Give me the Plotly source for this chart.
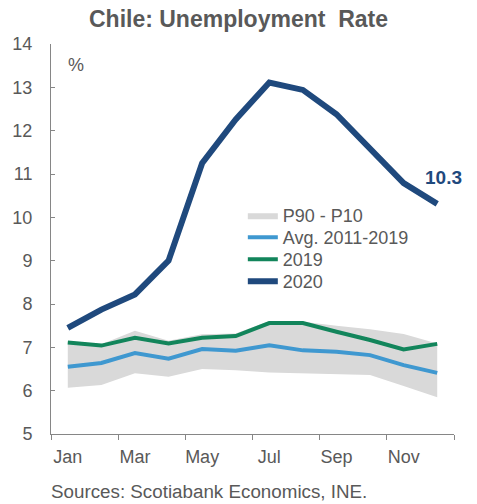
import plotly.graph_objects as go

months = ["Jan", "Feb", "Mar", "Apr", "May", "Jun", "Jul", "Aug", "Sep", "Oct", "Nov", "Dec"]
y2020 = [7.45, 7.87, 8.22, 9.0, 11.25, 12.26, 13.11, 12.94, 12.38, 11.59, 10.79, 10.31]
y2019 = [7.11, 7.04, 7.22, 7.09, 7.22, 7.26, 7.56, 7.56, 7.36, 7.17, 6.95, 7.08]
avg_11_19 = [6.55, 6.64, 6.87, 6.74, 6.96, 6.92, 7.05, 6.93, 6.90, 6.82, 6.59, 6.41]
p90 = [7.13, 7.07, 7.38, 7.15, 7.30, 7.32, 7.61, 7.59, 7.50, 7.42, 7.31, 7.09]
p10 = [6.07, 6.13, 6.40, 6.32, 6.50, 6.47, 6.42, 6.40, 6.38, 6.36, 6.11, 5.85]
y_ticks = [5, 6, 7, 8, 9, 10, 11, 12, 13, 14]

x = list(range(len(months)))
GRAY = "#595959"
AXIS = "#868686"
FONT = "Liberation Sans, Arial, sans-serif"

fig = go.Figure()
fig.add_trace(go.Scatter(x=x, y=p10, mode="lines", line=dict(width=0, color="#d9d9d9"),
                         showlegend=False, hoverinfo="skip"))
fig.add_trace(go.Scatter(x=x, y=p90, mode="lines", line=dict(width=0, color="#d9d9d9"),
                         fill="tonexty", fillcolor="#d9d9d9", name="P90 - P10", legend="legend"))
fig.add_trace(go.Scatter(x=x, y=avg_11_19, mode="lines", line=dict(width=4, color="#3f98d0"),
                         name="Avg. 2011-2019", legend="legend2"))
fig.add_trace(go.Scatter(x=x, y=y2019, mode="lines", line=dict(width=4, color="#12855b"),
                         name="2019", legend="legend3"))
fig.add_trace(go.Scatter(x=x, y=y2020, mode="lines", line=dict(width=6, color="#1f497d"),
                         name="2020", legend="legend4"))

fig.add_annotation(x=x[-1], y=y2020[-1], text="<b>%.1f</b>" % y2020[-1], showarrow=False,
                   xshift=6, yshift=26, font=dict(size=19, color="#1f497d", family=FONT))
fig.add_annotation(xref="paper", yref="paper", x=0.062, y=0.945, text="%", showarrow=False,
                   font=dict(size=18, color=GRAY, family=FONT), xanchor="center", yanchor="middle")
fig.add_annotation(xref="paper", yref="paper", x=-0.005, y=-0.148, xanchor="left", yanchor="middle",
                   text="Sources: Scotiabank Economics, INE.", showarrow=False,
                   font=dict(size=18.8, color=GRAY, family=FONT))


def leg(ytop):
    return dict(x=0.476, y=ytop, xanchor="left", yanchor="top", bgcolor="rgba(0,0,0,0)",
                font=dict(size=18, color=GRAY, family=FONT))


fig.update_layout(
    width=477, height=504,
    margin=dict(l=51, r=23, t=44, b=70),
    paper_bgcolor="white", plot_bgcolor="white",
    title=dict(text="<b>Chile: Unemployment  Rate</b>", x=0.5, xanchor="center", y=0.963,
               yanchor="middle", font=dict(size=23, color=GRAY, family=FONT)),
    font=dict(family=FONT, color=GRAY, size=18),
    legend=leg(0.6077),
    legend2=leg(0.5513),
    legend3=leg(0.4949),
    legend4=leg(0.4385),
    showlegend=True,
)
fig.update_xaxes(range=[-0.5, 11.5], tickmode="array", tickvals=x[::2], ticktext=months[::2],
                 ticks="", showline=True, linecolor=AXIS, linewidth=1, showgrid=False,
                 zeroline=False, tickfont=dict(size=18, color=GRAY), ticklabelstandoff=6,
                 minor=dict(tickmode="array", tickvals=[i - 0.5 for i in range(0, 13, 2)],
                            ticks="outside", ticklen=5, tickcolor=AXIS, showgrid=False))
fig.update_yaxes(range=[5, 14], tickmode="array", tickvals=y_ticks, ticks="inside", ticklen=4,
                 tickcolor=AXIS, showline=True, linecolor=AXIS, linewidth=1, ticklabelstandoff=14,
                 showgrid=False, zeroline=False, tickfont=dict(size=18, color=GRAY))

fig.write_html("out.html", post_script="document.body.style.margin='0';",
               config={"displayModeBar": False})
